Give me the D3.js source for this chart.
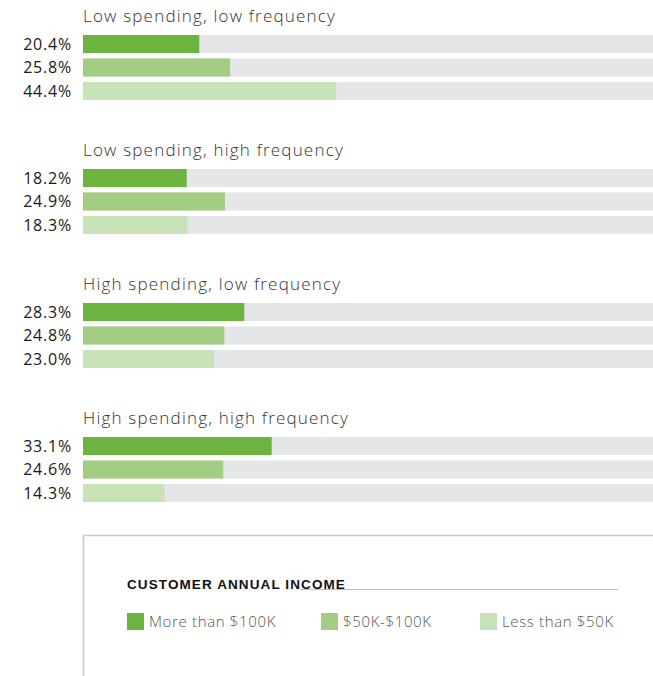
<!DOCTYPE html>
<html>
<head>
<meta charset="utf-8">
<script src="https://cdn.jsdelivr.net/npm/d3@7"></script>
<style>
  html, body { margin: 0; padding: 0; background: #fff; }
  svg { display: block; }
</style>
</head>
<body>
<svg id="chart" width="653" height="676"></svg>
<script>
// ---- data ----
const groups = [
  "Low spending, low frequency",
  "Low spending, high frequency",
  "High spending, low frequency",
  "High spending, high frequency"
];
const incomeSeries = ["More than $100K", "$50K-$100K", "Less than $50K"];
const moreThan100K = [20.4, 18.2, 28.3, 33.1];
const from50To100K = [25.8, 24.9, 24.8, 24.6];
const lessThan50K  = [44.4, 18.3, 23.0, 14.3];
const legendTitle = "CUSTOMER ANNUAL INCOME";

const seriesValues = [moreThan100K, from50To100K, lessThan50K];
const colors = ["#6db33f", "#a2cd83", "#c8e3b8"];
const fontFam = "'Open Sans', 'Noto Sans', sans-serif";

const svg = d3.select("#chart");

const x = d3.scaleLinear().domain([0, 100]).range([83, 653]);
const groupY = d3.scaleBand().domain(groups).range([0, 536]);
const rowY = d3.scaleBand().domain(incomeSeries).range([35, 100]).paddingInner(0.23).paddingOuter(0);

const g = svg.selectAll("g.group").data(groups).join("g")
  .attr("class", "group")
  .attr("transform", d => `translate(0,${groupY(d)})`);

g.append("text")
  .attr("x", 83).attr("y", 22)
  .attr("font-family", fontFam).attr("font-weight", 300)
  .attr("font-size", 17).attr("letter-spacing", 1.2).attr("fill", "#333")
  .text(d => d);

g.each(function(grp, gi) {
  const sel = d3.select(this);
  const rows = incomeSeries.map((s, si) => ({ s, si, v: seriesValues[si][gi] }));
  sel.selectAll("rect.bg").data(rows).join("rect")
    .attr("class", "bg")
    .attr("x", x(0)).attr("y", d => rowY(d.s))
    .attr("width", x(100) - x(0)).attr("height", rowY.bandwidth())
    .attr("fill", "#e5e6e8");
  sel.selectAll("rect.bar").data(rows).join("rect")
    .attr("class", "bar")
    .attr("x", x(0)).attr("y", d => rowY(d.s))
    .attr("width", d => x(d.v) - x(0)).attr("height", rowY.bandwidth())
    .attr("fill", d => colors[d.si]);
  sel.selectAll("text.val").data(rows).join("text")
    .attr("class", "val")
    .attr("x", 72).attr("y", d => rowY(d.s) + rowY.bandwidth() / 2)
    .attr("dy", "0.36em")
    .attr("text-anchor", "end")
    .attr("font-family", fontFam).attr("font-weight", 400)
    .attr("font-size", 16).attr("letter-spacing", 0.8).attr("fill", "#1a1a1a")
    .text(d => d.v.toFixed(1) + "%");
});

// ---- legend box ----
svg.append("path")
  .attr("d", "M83.5,676 V535.5 H653")
  .attr("fill", "none").attr("stroke", "#c8c8c8").attr("stroke-width", 1.5);

svg.append("line")
  .attr("x1", 300).attr("x2", 618).attr("y1", 589.5).attr("y2", 589.5)
  .attr("stroke", "#bdbdbd").attr("stroke-width", 1.2);

svg.append("text")
  .attr("x", 127).attr("y", 589)
  .attr("font-family", "'Liberation Sans', Arial, sans-serif").attr("font-weight", 700)
  .attr("font-size", 13.5).attr("letter-spacing", 1.1).attr("fill", "#111")
  .text(legendTitle);

const legendX = [127, 321, 480];
const lg = svg.selectAll("g.leg").data(incomeSeries).join("g")
  .attr("class", "leg")
  .attr("transform", (d, i) => `translate(${legendX[i]},613)`);
lg.append("rect").attr("width", 17).attr("height", 17).attr("fill", (d, i) => colors[i]);
lg.append("text")
  .attr("x", 22).attr("y", 8.5).attr("dy", "0.36em")
  .attr("font-family", fontFam).attr("font-weight", 300)
  .attr("font-size", 15).attr("letter-spacing", 0.65).attr("fill", "#555")
  .text(d => d);
</script>
</body>
</html>
